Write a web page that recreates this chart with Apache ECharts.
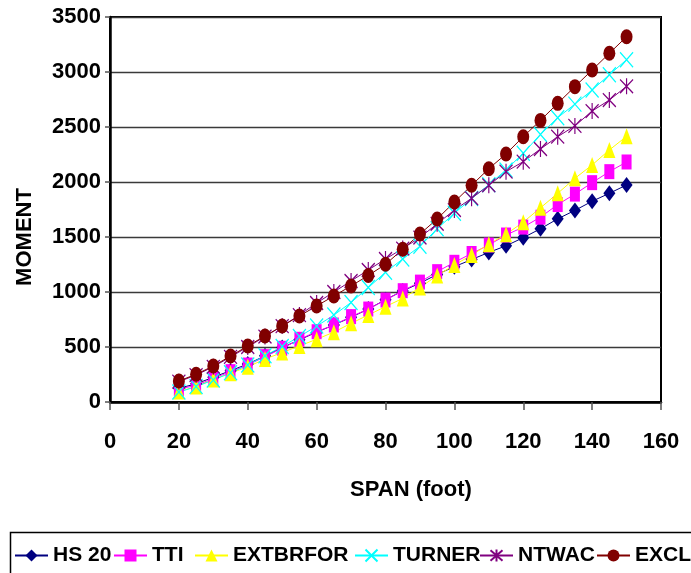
<!DOCTYPE html>
<html>
<head>
<meta charset="utf-8">
<script src="https://cdn.jsdelivr.net/npm/echarts@6/dist/echarts.min.js"></script>
<style>
  html, body { margin: 0; padding: 0; background: #fff; }
  #chart { width: 691px; height: 573px; }
</style>
</head>
<body>
<div id="chart"></div>
<script>
// Span lengths (foot)
const span = [20, 25, 30, 35, 40, 45, 50, 55, 60, 65, 70, 75, 80, 85, 90, 95, 100, 105, 110, 115, 120, 125, 130, 135, 140, 145, 150];

// Moment values per loading model
const hs20 = [125, 165, 225, 285, 345, 420, 495, 565, 635, 700, 770, 845, 930, 1010, 1080, 1160, 1230, 1295, 1360, 1420, 1494, 1575, 1665, 1742, 1825, 1897, 1973];
const tti = [120, 150, 215, 276, 336, 412, 488, 570, 639, 700, 776, 845, 927, 1012, 1090, 1185, 1270, 1350, 1427, 1518, 1590, 1680, 1795, 1890, 1994, 2094, 2182];
const extbrfor = [95, 140, 205, 262, 320, 390, 450, 510, 570, 635, 715, 791, 867, 942, 1040, 1150, 1245, 1336, 1435, 1525, 1635, 1765, 1897, 2033, 2155, 2291, 2415];
const turner = [90, 140, 200, 265, 336, 420, 505, 595, 690, 790, 905, 1040, 1180, 1300, 1415, 1575, 1715, 1850, 1975, 2110, 2262, 2432, 2585, 2708, 2836, 2975, 3112];
const ntwac = [185, 245, 320, 410, 500, 595, 690, 790, 900, 1000, 1100, 1200, 1300, 1395, 1495, 1620, 1745, 1852, 1970, 2094, 2185, 2300, 2412, 2510, 2645, 2745, 2870];
const excl = [191, 252, 327, 418, 509, 600, 691, 782, 873, 964, 1055, 1150, 1252, 1388, 1527, 1664, 1818, 1970, 2121, 2255, 2412, 2560, 2715, 2867, 3018, 3170, 3321];

const seriesNames = ['HS 20', 'TTI', 'EXTBRFOR', 'TURNER', 'NTWAC', 'EXCL'];
const xTitle = 'SPAN (foot)';
const yTitle = 'MOMENT';

const FONT = "'Liberation Sans', Arial, sans-serif";

function pairs(vals) {
  return span.map((s, i) => [s, vals[i]]);
}

const crossPath = 'path://M0,0L10,12M10,0L0,12';
const starPath = 'path://M0,0L10,12M10,0L0,12M5,-1L5,13';

function lineSeries(name, vals, color, symbol, size, strokeOnly) {
  return {
    name: name,
    type: 'line',
    data: pairs(vals),
    symbol: symbol,
    symbolSize: size,
    showSymbol: true,
    animation: false,
    lineStyle: { color: color, width: 1 },
    itemStyle: strokeOnly
      ? { color: 'rgba(0,0,0,0)', borderColor: color, borderWidth: 1.3 }
      : { color: color, borderWidth: 0 },
    emphasis: { disabled: true }
  };
}

const chart = echarts.init(document.getElementById('chart'), null, { renderer: 'canvas' });

// One legend block per entry so each label sits at its own spot in the row
const legendLefts = [14, 113, 194, 354, 479, 596];
const legends = seriesNames.map((n, i) => ({
  data: [n],
  left: legendLefts[i],
  top: 545,
  padding: 0,
  itemWidth: 33,
  itemHeight: 15,
  itemGap: 0,
  selectedMode: false,
  textStyle: { fontFamily: FONT, fontWeight: 'bold', fontSize: 21, color: '#000' }
}));

const titleStyle = { fontFamily: FONT, fontWeight: 'bold', fontSize: 22, fill: '#000' };

chart.setOption({
  backgroundColor: '#fff',
  animation: false,
  grid: {
    left: 110, right: 30, top: 17, bottom: 171,
    show: true, borderColor: '#000', borderWidth: 2, backgroundColor: 'transparent'
  },
  legend: legends,
  graphic: [
    {
      type: 'rect',
      shape: { x: 10.5, y: 532.5, width: 700, height: 60 },
      style: { fill: 'none', stroke: '#000', lineWidth: 1.5 },
      z: 0
    },
    {
      type: 'text',
      x: 411, y: 490,
      style: Object.assign({ text: xTitle, align: 'center', verticalAlign: 'middle' }, titleStyle)
    },
    {
      type: 'text',
      x: 25, y: 237,
      rotation: Math.PI / 2,
      style: Object.assign({ text: yTitle, align: 'center', verticalAlign: 'middle' }, titleStyle)
    }
  ],
  xAxis: {
    type: 'value',
    min: 0, max: 160, interval: 20,
    axisLine: { show: true, onZero: false, lineStyle: { color: '#000', width: 2.5 } },
    axisTick: { show: true, length: 8, lineStyle: { color: '#555', width: 1.5 } },
    axisLabel: {
      margin: 29, fontFamily: FONT, fontWeight: 'bold', fontSize: 22, color: '#000',
      formatter: v => String(v)
    },
    splitLine: { show: false }
  },
  yAxis: {
    type: 'value',
    min: 0, max: 3500, interval: 500,
    axisLine: { show: true, lineStyle: { color: '#000', width: 2.5 } },
    axisTick: { show: true, length: 5, lineStyle: { color: '#555', width: 1.5 } },
    axisLabel: {
      margin: 9, fontFamily: FONT, fontWeight: 'bold', fontSize: 22, color: '#000',
      formatter: v => String(v)
    },
    splitLine: { show: true, lineStyle: { color: '#3a3a3a', width: 1.3 } }
  },
  series: [
    lineSeries('HS 20', hs20, '#000080', 'diamond', [12, 16], false),
    lineSeries('TTI', tti, '#ff00ff', 'rect', [10, 15], false),
    lineSeries('EXTBRFOR', extbrfor, '#ffff00', 'triangle', [12, 16], false),
    lineSeries('TURNER', turner, '#00ffff', crossPath, [13, 15], true),
    lineSeries('NTWAC', ntwac, '#800080', starPath, [13, 16], true),
    lineSeries('EXCL', excl, '#800000', 'circle', [12, 15], false)
  ]
});
</script>
</body>
</html>
